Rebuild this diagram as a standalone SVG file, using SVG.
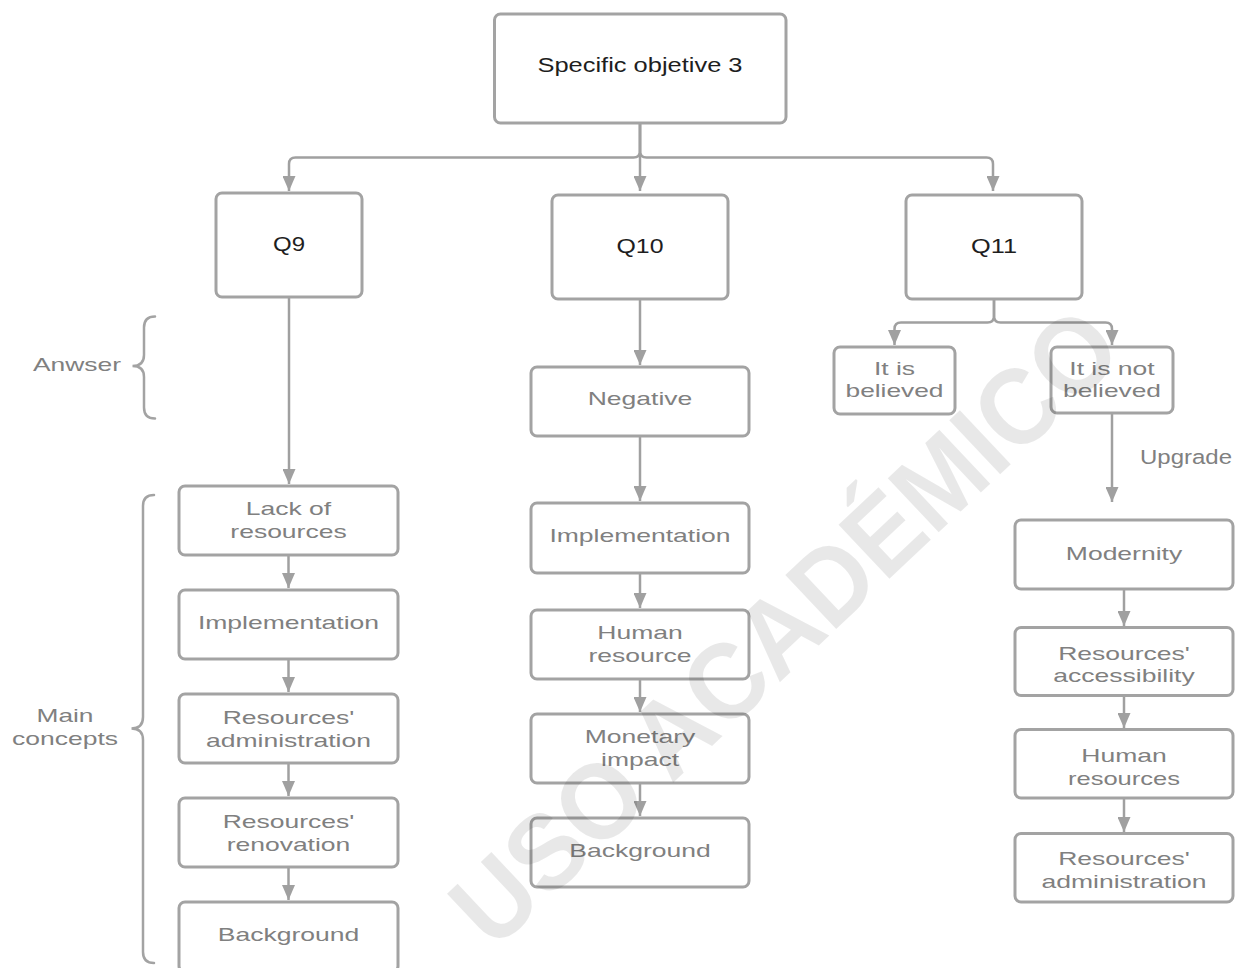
<svg xmlns="http://www.w3.org/2000/svg" width="1242" height="968" viewBox="0 0 1242 968">
<style>
.box{fill:#fff;stroke:#a3a3a3;stroke-width:3}
.g{font-family:"Liberation Sans",Arial,sans-serif;font-size:18.6px;fill:#808080;text-anchor:middle}
.k{font-family:"Liberation Sans",Arial,sans-serif;font-size:19.5px;fill:#1e1e1e;text-anchor:middle}
.c{fill:none;stroke:#a0a0a0;stroke-width:2.5}
.br{fill:none;stroke:#a3a3a3;stroke-width:2.5;stroke-linecap:round}
.wm{font-family:"Liberation Sans",Arial,sans-serif;font-weight:bold;font-size:108px;fill:#000;fill-opacity:0.09;text-anchor:middle}
</style>
<defs>
<marker id="ah" viewBox="0 0 15 13" refX="15" refY="6.5" markerWidth="15" markerHeight="13" markerUnits="userSpaceOnUse" orient="auto">
<path d="M0,0 L15,6.5 L0,13 z" fill="#a0a0a0"/>
</marker>
</defs>
<rect width="1242" height="968" fill="#fff"/>
<g id="connectors">
<path class="c" marker-end="url(#ah)" d="M640 123 V191"/>
<path class="c" marker-end="url(#ah)" d="M640 123 V151 Q640 157.5 633.5 157.5 H295.5 Q289 157.5 289 164 V191"/>
<path class="c" marker-end="url(#ah)" d="M640 123 V151 Q640 157.5 646.5 157.5 H986.5 Q993 157.5 993 164 V191"/>
<path class="c" marker-end="url(#ah)" d="M289 297 V484"/>
<path class="c" marker-end="url(#ah)" d="M640 299 V365"/>
<path class="c" marker-end="url(#ah)" d="M640 436 V501"/>
<path class="c" marker-end="url(#ah)" d="M640 573 V608"/>
<path class="c" marker-end="url(#ah)" d="M640 679 V712"/>
<path class="c" marker-end="url(#ah)" d="M640 783 V816"/>
<path class="c" marker-end="url(#ah)" d="M288.5 555 V588"/>
<path class="c" marker-end="url(#ah)" d="M288.5 659 V692"/>
<path class="c" marker-end="url(#ah)" d="M288.5 763 V796"/>
<path class="c" marker-end="url(#ah)" d="M288.5 867 V900"/>
<path class="c" marker-end="url(#ah)" d="M994 299 V316 Q994 322.5 987.5 322.5 H901 Q894.5 322.5 894.5 329 V345"/>
<path class="c" marker-end="url(#ah)" d="M994 299 V316 Q994 322.5 1000.5 322.5 H1105.5 Q1112 322.5 1112 329 V345"/>
<path class="c" marker-end="url(#ah)" d="M1112 413 V502"/>
<path class="c" marker-end="url(#ah)" d="M1124 589 V626"/>
<path class="c" marker-end="url(#ah)" d="M1124 696 V728"/>
<path class="c" marker-end="url(#ah)" d="M1124 798 V832"/>
</g>
<g id="brace-answer">
<path class="br" d="M155 316.5 Q144 316.5 144 327.5 V355 Q144 366 132.5 366 Q144 366 144 377 V407.5 Q144 418.5 155 418.5"/>
<text class="g" x="77" y="370.5" textLength="88" lengthAdjust="spacingAndGlyphs">Anwser</text>
</g>
<g id="brace-main">
<path class="br" d="M154 495 Q143 495 143 506 V717 Q143 728.5 131.5 728.5 Q143 728.5 143 740 V952 Q143 963 154 963"/>
<text class="g" x="65" y="721.5" textLength="57" lengthAdjust="spacingAndGlyphs">Main</text>
<text class="g" x="65" y="745" textLength="106" lengthAdjust="spacingAndGlyphs">concepts</text>
</g>
<g id="objective">
<rect class="box" x="494.5" y="14" width="291.5" height="109" rx="6"/>
<text class="k" x="640" y="71.5" textLength="205" lengthAdjust="spacingAndGlyphs">Specific objetive 3</text>
</g>
<g id="q9">
<rect class="box" x="216" y="193" width="146" height="104" rx="6"/>
<text class="k" x="289" y="250.5" textLength="32" lengthAdjust="spacingAndGlyphs">Q9</text>
</g>
<g id="q10">
<rect class="box" x="552" y="195" width="176" height="104" rx="6"/>
<text class="k" x="640" y="253" textLength="47" lengthAdjust="spacingAndGlyphs">Q10</text>
</g>
<g id="q11">
<rect class="box" x="906" y="195" width="176" height="104" rx="6"/>
<text class="k" x="994" y="253" textLength="46" lengthAdjust="spacingAndGlyphs">Q11</text>
</g>
<g id="q9-lack">
<rect class="box" x="179" y="486" width="219" height="69" rx="6"/>
<text class="g" x="288.5" y="515" textLength="85.4" lengthAdjust="spacingAndGlyphs">Lack of</text>
<text class="g" x="288.5" y="538" textLength="116.3" lengthAdjust="spacingAndGlyphs">resources</text>
</g>
<g id="q9-impl">
<rect class="box" x="179" y="590" width="219" height="69" rx="6"/>
<text class="g" x="288.5" y="629" textLength="181.2" lengthAdjust="spacingAndGlyphs">Implementation</text>
</g>
<g id="q9-admin">
<rect class="box" x="179" y="694" width="219" height="69" rx="6"/>
<text class="g" x="288.5" y="724" textLength="131.7" lengthAdjust="spacingAndGlyphs">Resources'</text>
<text class="g" x="288.5" y="747" textLength="164.9" lengthAdjust="spacingAndGlyphs">administration</text>
</g>
<g id="q9-renov">
<rect class="box" x="179" y="798" width="219" height="69" rx="6"/>
<text class="g" x="288.5" y="828" textLength="131.7" lengthAdjust="spacingAndGlyphs">Resources'</text>
<text class="g" x="288.5" y="851" textLength="123.7" lengthAdjust="spacingAndGlyphs">renovation</text>
</g>
<g id="q9-background">
<rect class="box" x="179" y="902" width="219" height="70" rx="6"/>
<text class="g" x="288.5" y="941" textLength="141.4" lengthAdjust="spacingAndGlyphs">Background</text>
</g>
<g id="q10-negative">
<rect class="box" x="531" y="367" width="218" height="69" rx="6"/>
<text class="g" x="640" y="405" textLength="104.6" lengthAdjust="spacingAndGlyphs">Negative</text>
</g>
<g id="q10-impl">
<rect class="box" x="531" y="503" width="218" height="70" rx="6"/>
<text class="g" x="640" y="542" textLength="181.2" lengthAdjust="spacingAndGlyphs">Implementation</text>
</g>
<g id="q10-human">
<rect class="box" x="531" y="610" width="218" height="69" rx="6"/>
<text class="g" x="640" y="639" textLength="85.4" lengthAdjust="spacingAndGlyphs">Human</text>
<text class="g" x="640" y="662" textLength="103.1" lengthAdjust="spacingAndGlyphs">resource</text>
</g>
<g id="q10-monetary">
<rect class="box" x="531" y="714" width="218" height="69" rx="6"/>
<text class="g" x="640" y="743" textLength="110.5" lengthAdjust="spacingAndGlyphs">Monetary</text>
<text class="g" x="640" y="766" textLength="78" lengthAdjust="spacingAndGlyphs">impact</text>
</g>
<g id="q10-background">
<rect class="box" x="531" y="818" width="218" height="69" rx="6"/>
<text class="g" x="640" y="857" textLength="141.4" lengthAdjust="spacingAndGlyphs">Background</text>
</g>
<g id="q11-believed">
<rect class="box" x="834" y="347" width="121" height="67" rx="6"/>
<text class="g" x="894.5" y="375" textLength="41.2" lengthAdjust="spacingAndGlyphs">It is</text>
<text class="g" x="894.5" y="397" textLength="98" lengthAdjust="spacingAndGlyphs">believed</text>
</g>
<g id="q11-not-believed">
<rect class="box" x="1051" y="347" width="122" height="66" rx="6"/>
<text class="g" x="1112" y="375" textLength="85.4" lengthAdjust="spacingAndGlyphs">It is not</text>
<text class="g" x="1112" y="397" textLength="98" lengthAdjust="spacingAndGlyphs">believed</text>
</g>
<g id="upgrade-label">
<text class="g" x="1186" y="463.5" style="font-size:20.5px" textLength="92" lengthAdjust="spacingAndGlyphs">Upgrade</text>
</g>
<g id="q11-modernity">
<rect class="box" x="1015" y="520" width="218" height="69" rx="6"/>
<text class="g" x="1124" y="559.5" textLength="116.3" lengthAdjust="spacingAndGlyphs">Modernity</text>
</g>
<g id="q11-access">
<rect class="box" x="1015" y="627.5" width="218" height="68" rx="6"/>
<text class="g" x="1124" y="659.5" textLength="131.7" lengthAdjust="spacingAndGlyphs">Resources'</text>
<text class="g" x="1124" y="682" textLength="141.3" lengthAdjust="spacingAndGlyphs">accessibility</text>
</g>
<g id="q11-human">
<rect class="box" x="1015" y="729.5" width="218" height="68.5" rx="6"/>
<text class="g" x="1124" y="761.5" textLength="85.4" lengthAdjust="spacingAndGlyphs">Human</text>
<text class="g" x="1124" y="784.5" textLength="112" lengthAdjust="spacingAndGlyphs">resources</text>
</g>
<g id="q11-admin">
<rect class="box" x="1015" y="833.5" width="218" height="68.5" rx="6"/>
<text class="g" x="1124" y="865" textLength="131.7" lengthAdjust="spacingAndGlyphs">Resources'</text>
<text class="g" x="1124" y="888" textLength="165" lengthAdjust="spacingAndGlyphs">administration</text>
</g>
<g id="watermark">
<text class="wm" x="0" y="38" transform="translate(784 626) rotate(-43.3)" textLength="870" lengthAdjust="spacingAndGlyphs">USO ACADÉMICO</text>
</g>
</svg>
